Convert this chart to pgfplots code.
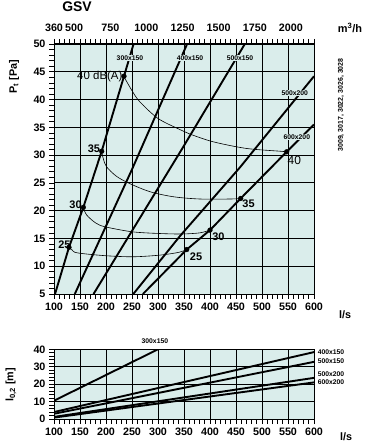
\documentclass[border=0pt]{standalone}
\usepackage{pgfplots}
\pgfplotsset{compat=1.18}
\usepackage{fontspec}
\setmainfont{Liberation Sans}
\definecolor{bgc}{RGB}{218,237,235}
\tikzset{duct/.style={fill=bgc, inner sep=0.6pt, font=\bfseries\fontsize{6.8}{7}\selectfont}}
\begin{document}
\begin{tikzpicture}
\useasboundingbox (0bp,0bp) rectangle (366bp,446bp);
\pgfplotsset{
  every axis/.append style={
    scale only axis,
    /pgf/number format/assume math mode=true,
    tick label style={font=\bfseries\fontsize{10.8}{12}\selectfont},
    axis line style={line width=1pt},
    major tick length=5bp, minor tick length=5bp,
    tick align=outside,
    every tick/.style={black, line width=0.7pt},
    major grid style={black, line width=1pt},
    clip mode=individual,
  },
  dl/.style={line width=1.9pt, black},
  db/.style={line width=0.6pt, black, smooth},
  mk/.style={only marks, mark=*, mark size=2.4pt, black},
}
% ---------------- main axis ----------------
\begin{axis}[
  at={(54bp,152bp)}, anchor=south west,
  width=260bp, height=250bp,
  xmin=100, xmax=600, ymin=5, ymax=50,
  xtick={100,150,...,600}, minor x tick num=4,
  ytick={5,10,...,50}, minor y tick num=4,
  xtick pos=both, xticklabel pos=lower, ytick pos=left,
  grid=major,
  axis background/.style={fill=bgc},
]
% iso-dB curves
\addplot[db] coordinates {(234.6,44.1) (250,41.6) (265,39.6) (300,36.6) (342,34.6) (361,33.8) (406,32.4) (470,31.2) (535,30.7) (547.5,30.6)};
\addplot[db] coordinates {(191.7,30.6) (195,29.3) (201,27.9) (220,26.2) (245,24.9) (285,23.4) (330,22.5) (380,22.1) (440,22.1) (459,22.2)};
\addplot[db] coordinates {(156.4,20.5) (163,19.2) (180,17.8) (198,17.1) (250,16.2) (300,15.9) (345,15.8) (380,16.0) (400,16.5)};
\addplot[db] coordinates {(128.8,13.5) (135,12.9) (145,12.4) (198,11.9) (252,11.7) (304,12.0) (340,12.5) (355.2,13.0)};
% duct lines
\addplot[dl] coordinates {(102,5) (128.8,13.4) (156.4,20.6) (191.7,30.7) (234.6,44.2) (253,50)};
\addplot[dl] coordinates {(140,5) (249.4,27.3) (356,50)};
\addplot[dl] coordinates {(176,5) (348.7,31.5) (467,50)};
\addplot[dl] coordinates {(252.5,5) (342,15.4) (457.7,27.8) (600,44.2)};
\addplot[dl] coordinates {(271,5) (355.2,13.0) (400,16.5) (459,22.2) (547.5,30.6) (600,35.5)};
% markers
\addplot[mk] coordinates {(128.8,13.4) (156.4,20.6) (191.7,30.7) (234.6,44.2)};
\addplot[mk] coordinates {(355.2,13.0) (400,16.5) (459,22.2) (547.5,30.6)};
% duct labels
\node[duct] at (axis cs:246,47.4) {300x150};
\node[duct] at (axis cs:361.5,47.4) {400x150};
\node[duct] at (axis cs:457.7,47.4) {500x150};
\node[duct] at (axis cs:563,41.1) {500x200};
\node[duct] at (axis cs:567,33.3) {600x200};
% dB labels
\node[anchor=east, font=\fontsize{11.5}{12}\selectfont, inner sep=0pt] at (axis cs:232,44.2) {40 dB(A)};
\node[anchor=east, font=\bfseries\fontsize{11}{12}\selectfont, inner sep=0pt] at (axis cs:189,31.1) {35};
\node[anchor=east, font=\bfseries\fontsize{11}{12}\selectfont, inner sep=0pt] at (axis cs:153.5,21.0) {30};
\node[anchor=south east, font=\bfseries\fontsize{11}{12}\selectfont, inner sep=0pt] at (axis cs:132,13.2) {25};
\node[anchor=north west, font=\fontsize{12}{13}\selectfont, inner sep=0pt] at (axis cs:549,29.9) {40};
\node[anchor=north west, font=\bfseries\fontsize{11}{12}\selectfont, inner sep=0pt] at (axis cs:462,22.0) {35};
\node[anchor=north west, font=\bfseries\fontsize{11}{12}\selectfont, inner sep=0pt] at (axis cs:404,16.1) {30};
\node[anchor=north west, font=\bfseries\fontsize{11}{12}\selectfont, inner sep=0pt] at (axis cs:361,12.4) {25};
\end{axis}
% ---------------- top m3/h axis ----------------
\begin{axis}[
  at={(54bp,152bp)}, anchor=south west,
  width=260bp, height=250bp,
  xmin=100, xmax=600, ymin=5, ymax=50,
  axis x line*=top, axis y line=none,
  xtick={100,138.89,208.33,277.78,347.22,416.67,486.11,555.56},
  xticklabels={360,500,750,1000,1250,1500,1750,2000},
  major tick length=0pt,
  xticklabel style={yshift=9bp},
]
\addplot[draw=none] coordinates {(100,5)};
\end{axis}
% ---------------- throw axis ----------------
\begin{axis}[
  at={(54bp,27bp)}, anchor=south west,
  width=260bp, height=69.7bp,
  xmin=100, xmax=600, ymin=0, ymax=40,
  xtick={100,150,...,600}, minor x tick num=4,
  ytick={0,10,...,40}, minor y tick num=4,
  xtick pos=left, ytick pos=left,
  grid=major,
  axis background/.style={fill=bgc},
]
\addplot[dl] coordinates {(100,10.5) (300,40)};
\addplot[dl] coordinates {(100,4) (600,38.4)};
\addplot[dl] coordinates {(100,3) (600,32.8)};
\addplot[dl] coordinates {(100,1.2) (600,23.6)};
\addplot[dl] coordinates {(100,0.8) (600,21.0)};
\node[font=\bfseries\fontsize{6.8}{7}\selectfont, inner sep=0pt] at (axis cs:294,44.8) {300x150};
\node[anchor=west, font=\bfseries\fontsize{6.8}{7}\selectfont, inner sep=0pt] at (axis cs:607,38.6) {400x150};
\node[anchor=west, font=\bfseries\fontsize{6.8}{7}\selectfont, inner sep=0pt] at (axis cs:607,33.4) {500x150};
\node[anchor=west, font=\bfseries\fontsize{6.8}{7}\selectfont, inner sep=0pt] at (axis cs:607,25.8) {500x200};
\node[anchor=west, font=\bfseries\fontsize{6.8}{7}\selectfont, inner sep=0pt] at (axis cs:607,21.4) {600x200};
\end{axis}
% ---------------- free text ----------------
\node[font=\bfseries\fontsize{14}{16}\selectfont] at (77bp,439bp) {GSV};
\node[font=\bfseries\fontsize{11}{12}\selectfont] at (350bp,418bp) {m\textsuperscript{3}/h};
\node[font=\bfseries\fontsize{10.8}{12}\selectfont, rotate=90] at (14bp,369bp) {P\textsubscript{t} [Pa]};
\node[font=\bfseries\fontsize{10.8}{12}\selectfont, rotate=90] at (11bp,61bp) {l\textsubscript{0,2} [m]};
\node[font=\bfseries\fontsize{10.8}{12}\selectfont] at (345bp,131bp) {l/s};
\node[font=\bfseries\fontsize{10.8}{12}\selectfont] at (346bp,9bp) {l/s};
\node[font=\bfseries\fontsize{7}{8}\selectfont, rotate=90] at (341bp,341bp) {3009,\ 3017,\ 3022,\ 3026,\ 3028};
\end{tikzpicture}
\end{document}
